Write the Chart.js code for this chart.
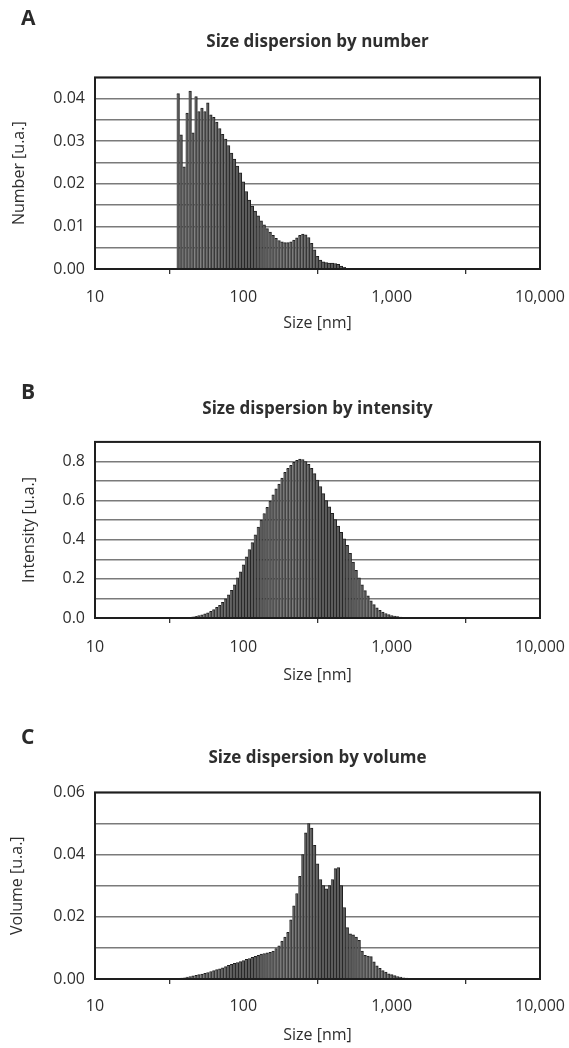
<!DOCTYPE html>
<html>
<head>
<meta charset="utf-8">
<script src="https://cdn.jsdelivr.net/npm/chart.js@4.4.1/dist/chart.umd.min.js"></script>
<style>
  html, body { margin: 0; padding: 0; background: #fff; }
  #page { position: relative; width: 569px; height: 1048px; overflow: hidden; }
  .panel { position: absolute; left: 0; width: 600px; }
  .letter { position: absolute; left: 21px; font: bold 21px/21px "Open Sans", sans-serif; color: #2a2a2a; }
</style>
</head>
<body>
<div id="page">
  <div class="panel" style="top:0;height:340px"><canvas id="chartA"></canvas></div>
  <div class="panel" style="top:340px;height:350px"><canvas id="chartB"></canvas></div>
  <div class="panel" style="top:690px;height:358px"><canvas id="chartC"></canvas></div>
  <div class="letter" style="top:7px">A</div>
  <div class="letter" style="top:381px">B</div>
  <div class="letter" style="top:726px">C</div>
</div>
<script>
// size bins [nm]
const sizeBins = [
  33.1, 34.7, 36.3, 38.0, 39.8, 41.7, 43.7, 45.7, 47.9, 50.1,
  52.5, 55.0, 57.5, 60.3, 63.1, 66.1, 69.2, 72.4, 75.9, 79.4,
  83.2, 87.1, 91.2, 95.5, 100, 104.7, 109.6, 114.8, 120.2, 125.9,
  131.8, 138.0, 144.5, 151.4, 158.5, 166.0, 173.8, 182.0, 190.5, 199.5,
  208.9, 218.8, 229.1, 239.9, 251.2, 263.0, 275.4, 288.4, 302.0, 316.2,
  331.1, 346.7, 363.1, 380.2, 398.1, 416.9, 436.5, 457.1, 478.6, 501.2,
  524.8, 549.5, 575.4, 602.6, 631.0, 660.7, 691.8, 724.4, 758.6, 794.3,
  831.8, 871.0, 912.0, 955.0, 1000, 1047, 1096, 1148, 1202, 1259,
  1318, 1380, 1445, 1514, 1585, 1660, 1738, 1820
];

const numberValues = [
  0, 0, 0.0412, 0.0315, 0.0240, 0.0366, 0.0418, 0.0320, 0.0405, 0.0370,
  0.0378, 0.0370, 0.0390, 0.0362, 0.0356, 0.0345, 0.0330, 0.0316, 0.0305, 0.0290,
  0.0272, 0.0258, 0.0242, 0.0226, 0.0205, 0.0182, 0.0162, 0.0148, 0.0136, 0.0125,
  0.0113, 0.0104, 0.0095, 0.0087, 0.0079, 0.0072, 0.0067, 0.0064, 0.0062, 0.0062,
  0.0064, 0.0068, 0.0073, 0.0079, 0.0082, 0.0080, 0.0074, 0.0060, 0.0045, 0.0030,
  0.0021, 0.0017, 0.0015, 0.0014, 0.0014, 0.0013, 0.0011, 0.0007, 0.0004, 0.0001,
  0, 0, 0, 0, 0, 0, 0, 0, 0, 0,
  0, 0, 0, 0, 0, 0, 0, 0, 0, 0,
  0, 0, 0, 0, 0, 0, 0, 0
];

const intensityValues = [
  0, 0, 0, 0, 0, 0, 0.003, 0.006, 0.009, 0.012,
  0.016, 0.021, 0.027, 0.034, 0.043, 0.055, 0.065, 0.080, 0.098, 0.118,
  0.142, 0.170, 0.205, 0.236, 0.272, 0.312, 0.350, 0.385, 0.425, 0.465,
  0.500, 0.534, 0.565, 0.597, 0.630, 0.660, 0.685, 0.715, 0.745, 0.765,
  0.780, 0.795, 0.806, 0.812, 0.810, 0.800, 0.785, 0.765, 0.738, 0.705,
  0.672, 0.636, 0.600, 0.568, 0.535, 0.503, 0.470, 0.438, 0.405, 0.372,
  0.330, 0.286, 0.243, 0.205, 0.170, 0.140, 0.113, 0.088, 0.068, 0.052,
  0.039, 0.030, 0.023, 0.017, 0.013, 0.010, 0.007, 0.005, 0.004, 0.003,
  0.002, 0.001, 0.0005, 0, 0, 0, 0, 0
];

const volumeValues = [
  0.0001, 0.0002, 0.0002, 0.0003, 0.0004, 0.0006, 0.0008, 0.0010, 0.0012, 0.0014,
  0.0016, 0.0018, 0.0021, 0.0024, 0.0027, 0.0030, 0.0033, 0.0036, 0.0040, 0.0044,
  0.0047, 0.0050, 0.0053, 0.0056, 0.0059, 0.0063, 0.0066, 0.0070, 0.0073, 0.0076,
  0.0080, 0.0082, 0.0084, 0.0086, 0.0090, 0.0098, 0.0107, 0.0122, 0.0135, 0.0150,
  0.0190, 0.0235, 0.0275, 0.0330, 0.0400, 0.0470, 0.0500, 0.0485, 0.0430, 0.0370,
  0.0320, 0.0300, 0.0290, 0.0300, 0.0320, 0.0355, 0.0358, 0.0300, 0.0230, 0.0165,
  0.0145, 0.0142, 0.0135, 0.0124, 0.0090, 0.0076, 0.0074, 0.0072, 0.0055, 0.0042,
  0.0034, 0.0027, 0.0022, 0.0017, 0.0014, 0.0011, 0.0008, 0.0006, 0.0004, 0.0003,
  0.0002, 0.0002, 0.0001, 0, 0, 0, 0, 0
];

const xTickValues = [10, 100, 1000, 10000];

const FONT = '"Open Sans", sans-serif';
const TEXT = '#2e2e2e';

const framePlugin = {
  id: 'frame',
  afterDraw(chart) {
    const { ctx, chartArea: a } = chart;
    ctx.save();
    ctx.strokeStyle = '#1e1e1e';
    ctx.lineWidth = 2;
    ctx.strokeRect(a.left, a.top, a.right - a.left, a.bottom - a.top);
    ctx.restore();
  }
};

function makePanel(id, values, cfg) {
  new Chart(document.getElementById(id), {
    type: 'bar',
    data: {
      datasets: [{
        data: sizeBins.map((s, i) => ({ x: s, y: values[i] })),
        backgroundColor: '#5c5c5c',
        borderColor: '#1f1f1f',
        borderWidth: { top: 1, right: 1, left: 0, bottom: 0 },
        borderSkipped: 'start',
        barPercentage: 1,
        categoryPercentage: 1
      }]
    },
    options: {
      responsive: true,
      maintainAspectRatio: false,
      animation: false,
      layout: { padding: { left: 0, right: 60, top: 0, bottom: 0 } },
      plugins: {
        legend: { display: false },
        tooltip: { enabled: false },
        title: {
          display: true,
          text: cfg.title,
          fullSize: false,
          color: TEXT,
          font: { family: FONT, size: 17, weight: 'bold', lineHeight: 1.2 },
          padding: { top: cfg.titleTop, bottom: cfg.titleBottom }
        }
      },
      scales: {
        x: {
          type: 'logarithmic',
          min: 10,
          max: 10000,
          offset: false,
          afterBuildTicks: s => { s.ticks = xTickValues.map(v => ({ value: v })); },
          afterFit: s => { s.height = cfg.xHeight; },
          grid: { drawOnChartArea: false, drawTicks: true, tickLength: 5, tickColor: '#333', lineWidth: 1.3 },
          border: { display: false },
          ticks: {
            autoSkip: false,
            maxRotation: 0,
            padding: cfg.xTickPad,
            color: TEXT,
            font: { family: FONT, size: 16 },
            callback: v => Number(v).toLocaleString('en-US')
          },
          title: {
            display: true,
            text: 'Size [nm]',
            color: TEXT,
            font: { family: FONT, size: 16, lineHeight: 1.2 },
            padding: { top: 0, bottom: cfg.xTitlePad }
          }
        },
        y: {
          min: 0,
          max: cfg.yMax,
          z: 1,
          afterFit: s => { s.width = 95; },
          grid: { color: '#7a7a7a', lineWidth: 1.6, drawTicks: false },
          border: { display: false },
          ticks: {
            stepSize: cfg.yStep,
            autoSkip: false,
            padding: 10,
            color: TEXT,
            font: { family: FONT, size: 16 },
            callback: (v, i) => (i % 2 === 0 ? v.toFixed(cfg.decimals) : '')
          },
          title: {
            display: true,
            text: cfg.yTitle,
            color: TEXT,
            font: { family: FONT, size: 16, lineHeight: 1.2 },
            padding: { top: cfg.yTitlePad, bottom: 0 }
          }
        }
      }
    },
    plugins: [framePlugin]
  });
}

makePanel('chartA', numberValues, {
  title: 'Size dispersion by number', titleTop: 32, titleBottom: 25,
  xHeight: 71, xTickPad: 13.4, xTitlePad: 7.4,
  yMax: 0.045, yStep: 0.005, decimals: 2, yTitle: 'Number [u.a.]', yTitlePad: 10
});
makePanel('chartB', intensityValues, {
  title: 'Size dispersion by intensity', titleTop: 59, titleBottom: 22.5,
  xHeight: 72, xTickPad: 14.4, xTitlePad: 5.4,
  yMax: 0.9, yStep: 0.1, decimals: 1, yTitle: 'Intensity [u.a.]', yTitlePad: 20
});
makePanel('chartC', volumeValues, {
  title: 'Size dispersion by volume', titleTop: 58, titleBottom: 24,
  xHeight: 69, xTickPad: 13.1, xTitlePad: 3.4,
  yMax: 0.06, yStep: 0.01, decimals: 2, yTitle: 'Volume [u.a.]', yTitlePad: 8
});
</script>
</body>
</html>
